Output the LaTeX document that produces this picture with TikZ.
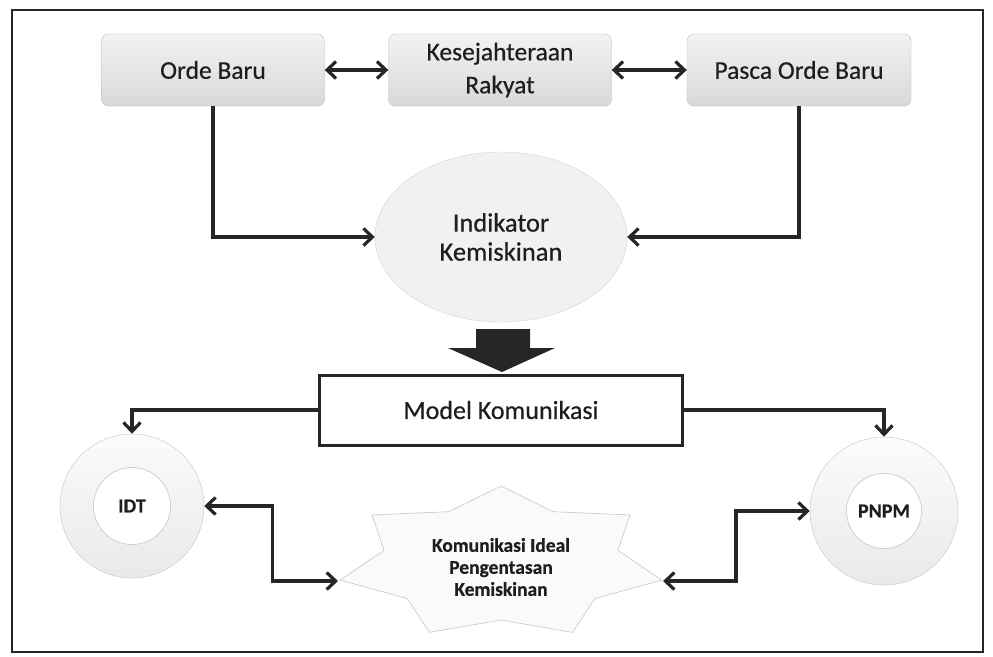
\documentclass[tikz,border=0pt]{standalone}
\usepackage{fontspec}
\setmainfont{Carlito}[FakeBold=0.5]
\newfontfamily\heavy{Carlito}[FakeBold=0.5]
\usetikzlibrary{shapes.geometric,arrows.meta}
\definecolor{txt}{HTML}{1E1E1E}
\tikzset{
  topbox/.style={draw=gray!55, rounded corners=7pt, top color=gray!10, bottom color=gray!30,
    minimum width=223pt, minimum height=72pt, font=\heavy\fontsize{25.5}{33}\selectfont, text=txt, align=center},
  conn/.style={line width=3.2pt, draw=black!85},
  bb/.tip={Straight Barb[length=9pt,width=17pt]},
  ring/.style={circle, draw=gray!40, top color=gray!3, bottom color=gray!17, line width=0.5pt},
  core/.style={circle, draw=gray!50, fill=white, line width=0.5pt, text=txt, font=\fontsize{20}{22}\bfseries\selectfont}
}
\begin{document}
\begin{tikzpicture}[x=1pt,y=-1pt]
\useasboundingbox (0,0) rectangle (993,656);
\draw[line width=2.4pt, black!85] (12,10) rectangle (983,652);
% top boxes
\node[topbox] (ob) at (213,70) {Orde Baru};
\node[topbox] (kr) at (500,70) {Kesejahteraan\\Rakyat};
\node[topbox, minimum width=224pt] (pob) at (799,70) {Pasca Orde Baru};
% ellipse
\node[ellipse, draw=gray!35, fill=gray!11, minimum width=252pt, minimum height=170pt,
  font=\heavy\fontsize{26.5}{29}\selectfont, text=txt, align=center] (ik) at (501,237) {Indikator\\Kemiskinan};
% model box
\node[draw=black!85, line width=3pt, fill=white, minimum width=363pt, minimum height=70pt,
  font=\heavy\fontsize{26}{30}\selectfont, text=txt] (mk) at (501,410) {Model Komunikasi};
% big block arrow
\fill[black!85] (476,329) -- (530,329) -- (530,348) -- (555,348) -- (502,372) -- (448,348) -- (476,348) -- cycle;
% rings
\node[ring, minimum size=144pt] (idto) at (132,506) {};
\node[core, minimum size=77pt] (idti) at (132,506) {IDT};
\node[ring, minimum size=148pt] (pnpo) at (884,511) {};
\node[core, minimum size=75pt] (pnpi) at (884,511) {PNPM};
% star (7 points)
\draw[gray!45, fill=gray!4, line width=0.6pt]
  plot[samples at={0,...,13}] ({501+(mod(\x,2)==0 ? 165 : 120)*cos(90+\x*360/14)},
                               {563-(mod(\x,2)==0 ? 77 : 57)*sin(90+\x*360/14)}) -- cycle;
\node[font=\fontsize{19.5}{22}\bfseries\selectfont, text=txt, align=center] (st) at (501,567)
  {Komunikasi Ideal\\Pengentasan\\Kemiskinan};
\coordinate (stl) at (338,581);
\coordinate (str) at (663,581);
% connectors
\draw[conn, {bb}-{bb}] (ob.east) -- (kr.west);
\draw[conn, {bb}-{bb}] (kr.east) -- (pob.west);
\draw[conn, -{bb}] (ob.south) |- (ik.west);
\draw[conn, -{bb}] (pob.south) |- (ik.east);
\draw[conn, -{bb}] (mk.west) -| (idto.north);
\draw[conn, -{bb}] (mk.east) -| (pnpo.north);
\draw[conn, {bb}-{bb}] (idto.east) -- ++(68,0) |- (stl);
\draw[conn, {bb}-{bb}] (str) -- ++(73,0) |- (pnpo.west);
\end{tikzpicture}
\end{document}
